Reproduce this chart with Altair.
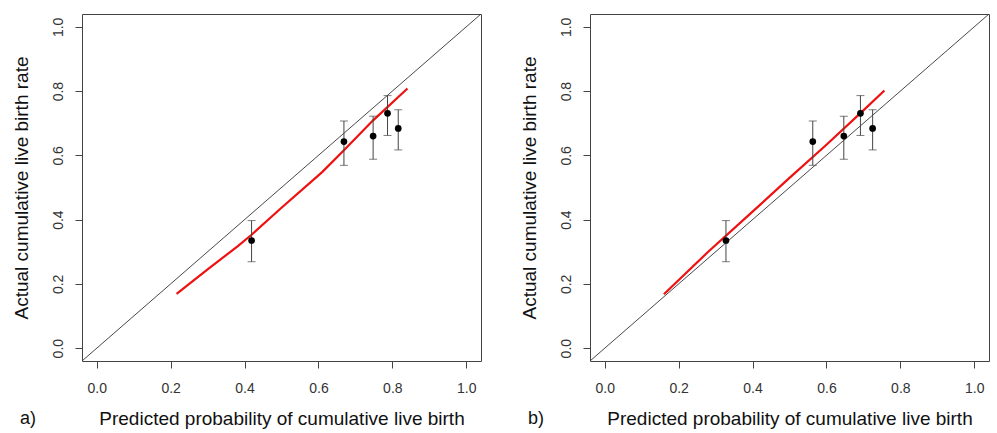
import altair as alt
import pandas as pd

# ---- data ----
ticks = [0.0, 0.2, 0.4, 0.6, 0.8, 1.0]
diag_vals = [-0.04, 1.04]

# observed cumulative live birth rate with 95% CI (same groups in both panels)
obs = [0.335, 0.643, 0.660, 0.731, 0.684]
lo = [0.269, 0.569, 0.588, 0.662, 0.617]
hi = [0.397, 0.707, 0.722, 0.786, 0.742]

# panel a)
a_pred = [0.419, 0.669, 0.748, 0.787, 0.816]
a_curve_x = [0.216, 0.30, 0.381, 0.419, 0.50, 0.61, 0.669, 0.748, 0.841]
a_curve_y = [0.169, 0.245, 0.317, 0.353, 0.437, 0.548, 0.616, 0.709, 0.808]

# panel b)
b_pred = [0.328, 0.563, 0.647, 0.692, 0.725]
b_curve_x = [0.160, 0.28, 0.40, 0.50, 0.60, 0.70, 0.757]
b_curve_y = [0.168, 0.300, 0.425, 0.530, 0.633, 0.740, 0.802]

tags = ["a)", "b)"]

FONT = "Liberation Sans"
W, H = 399, 347
DOM = [-0.04, 1.04]


def panel(pred, cx, cy, tag):
    pts = pd.DataFrame({"x": pred, "y": obs, "lo": lo, "hi": hi})
    curve = pd.DataFrame({"x": cx, "y": cy})
    diag = pd.DataFrame({"x": diag_vals, "y": diag_vals})
    tagdf = pd.DataFrame({"t": [tag]})

    xs = alt.Scale(domain=DOM, nice=False, zero=False)
    ys = alt.Scale(domain=DOM, nice=False, zero=False)
    xax = alt.Axis(values=ticks, format=".1f", grid=False, domain=False,
                   tickSize=7, labelPadding=13, titlePadding=14,
                   title="Predicted probability of cumulative live birth")
    yax = alt.Axis(values=ticks, format=".1f", grid=False, domain=False,
                   tickSize=7, labelPadding=10, titlePadding=20,
                   labelAngle=270, labelAlign="center", labelBaseline="bottom",
                   title="Actual cumulative live birth rate")

    def X(f="x"):
        return alt.X(f"{f}:Q", scale=xs, axis=xax)

    def Y(f="y"):
        return alt.Y(f"{f}:Q", scale=ys, axis=yax)

    d = alt.Chart(diag).mark_line(color="#333333", strokeWidth=0.9, clip=True).encode(x=X(), y=Y())
    c = alt.Chart(curve).mark_line(color="#ee1111", strokeWidth=2.2).encode(x=X(), y=Y())
    r = alt.Chart(pts).mark_rule(color="#444444", strokeWidth=1).encode(x=X(), y=Y("lo"), y2="hi:Q")
    t1 = alt.Chart(pts).mark_tick(color="#444444", orient="horizontal", size=8, thickness=1).encode(x=X(), y=Y("lo"))
    t2 = alt.Chart(pts).mark_tick(color="#444444", orient="horizontal", size=8, thickness=1).encode(x=X(), y=Y("hi"))
    p = alt.Chart(pts).mark_circle(color="black", opacity=1, size=45).encode(x=X(), y=Y())
    tg = alt.Chart(tagdf).mark_text(font=FONT, fontSize=18, color="#111111", align="center",
                                    baseline="middle").encode(
        text="t:N", x=alt.value(-54), y=alt.value(H + 58))
    return alt.layer(d, c, r, t1, t2, p, tg).properties(width=W, height=H)


left = panel(a_pred, a_curve_x, a_curve_y, tags[0])
right = panel(b_pred, b_curve_x, b_curve_y, tags[1])

chart = alt.hconcat(left, right, spacing=37).properties(
    padding={"left": 11, "top": 13, "right": 5, "bottom": 5},
    background="white",
).configure_view(
    stroke="#444444", strokeWidth=1
).configure_axis(
    labelFont=FONT, labelFontSize=14, labelColor="#333333",
    tickColor="#444444", tickWidth=1,
    titleFont=FONT, titleFontSize=19, titleFontWeight="normal", titleColor="#111111",
)

chart.save("out.html", embed_options={"renderer": "svg", "actions": False})
